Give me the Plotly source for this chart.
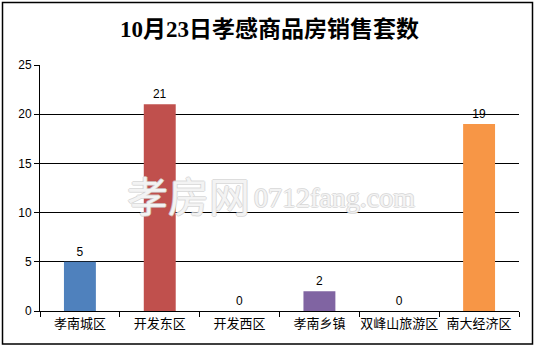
import plotly.graph_objects as go

categories = ["孝南城区", "开发东区", "开发西区", "孝南乡镇", "双峰山旅游区", "南大经济区"]
values = [5, 21, 0, 2, 0, 19]
colors = ["#4F81BD", "#C0504D", "#9BBB59", "#8064A2", "#4BACC6", "#F79646"]
y_ticks = [0, 5, 10, 15, 20, 25]
title_text = "10月23日孝感商品房销售套数"

L, R, T, B = 40, 18, 65, 37
W, H = 537, 348
pw, ph = W - L - R, H - T - B

def px_x(x):
    return (x - L) / pw

def px_y(y):
    return (H - B - y) / ph

wm_shadow = ("1px 0px 0px #d2d2d2, -1px 0px 0px #d2d2d2, 0px 1px 0px #d2d2d2, 0px -1px 0px #d2d2d2")

fig = go.Figure()
fig.add_trace(go.Bar(
    x=categories, y=values,
    marker=dict(color=colors, line=dict(width=0)),
    text=[str(v) for v in values], textposition="outside",
    textfont=dict(family="Liberation Sans, Noto Sans CJK SC", size=12, color="#000000"),
    cliponaxis=False,
    width=0.4,
))

fig.update_layout(
    width=W, height=H,
    margin=dict(l=L, r=R, t=T, b=B, pad=0, autoexpand=False),
    paper_bgcolor="white", plot_bgcolor="white",
    showlegend=False,
    font=dict(family="Liberation Sans, Noto Sans CJK SC", color="#000000"),
    xaxis=dict(
        type="category", showgrid=False, showline=True, linecolor="#000000", linewidth=1,
        ticks="outside", tickson="boundaries", ticklen=5, tickcolor="#000000",
        tickangle=0, automargin=False,
        tickfont=dict(family="Noto Sans CJK SC", size=13, color="#000000"),
        zeroline=False,
    ),
    yaxis=dict(
        range=[0, 25], tickvals=y_ticks, showgrid=True, gridcolor="#000000", gridwidth=1,
        showline=True, linecolor="#000000", linewidth=1, automargin=False,
        ticks="outside", ticklen=5, tickcolor="#000000",
        tickfont=dict(family="Liberation Sans", size=12, color="#000000"),
        zeroline=False,
    ),
    annotations=[
        dict(text="<b>" + title_text + "</b>", xref="paper", yref="paper",
             x=px_x(269), y=px_y(29), xanchor="center", yanchor="middle", showarrow=False,
             font=dict(family="Liberation Serif, Noto Sans CJK SC", size=23, color="#000000")),
        dict(text="孝房网", xref="paper", yref="paper",
             x=px_x(125), y=px_y(194), xanchor="left", yanchor="middle", showarrow=False,
             font=dict(family="Noto Sans CJK SC", size=41, color="rgba(255,255,255,0.75)",
                       shadow=wm_shadow)),
        dict(text="0712fang.com", xref="paper", yref="paper",
             x=px_x(252), y=px_y(197), xanchor="left", yanchor="middle", showarrow=False,
             font=dict(family="Liberation Serif", size=28, color="rgba(255,255,255,0.75)",
                       shadow=wm_shadow)),
    ],
    shapes=[
        dict(type="rect", xref="paper", yref="paper",
             x0=px_x(2.5), x1=px_x(532.5), y0=px_y(344), y1=px_y(2.5),
             line=dict(color="#000000", width=1.5), fillcolor="rgba(0,0,0,0)", layer="below"),
    ],
)

fig.write_html("out.html")
